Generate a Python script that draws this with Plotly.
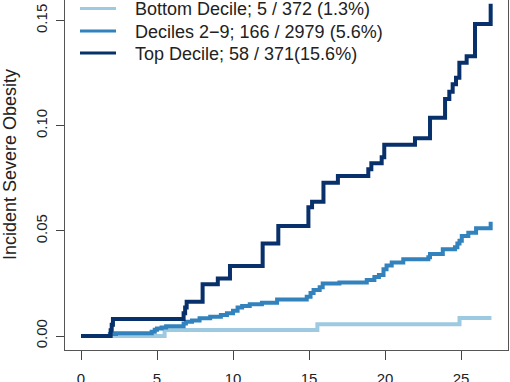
import plotly.graph_objects as go

# ---- data ----
bottom_t = [0, 5.5, 15.55, 24.9, 27.0]
bottom_y = [0, 0.0028, 0.0056, 0.0086, 0.0086]

mid_t = [0, 1.9, 2.3, 4.65, 4.85, 5.0, 5.3, 5.6, 6.75, 6.9, 7.3, 7.8, 8.5, 9.2, 9.6,
         10.0, 10.3, 10.6, 11.1, 11.9, 12.9, 14.85, 15.1, 15.3, 15.7, 15.9, 17.0,
         18.8, 19.3, 19.6, 19.9, 20.1, 20.44, 21.2, 22.85, 22.96, 23.8, 24.6, 24.76,
         24.9, 25.05, 25.48, 25.99, 26.95]
mid_y = [0, 0.0010, 0.0013, 0.0020, 0.0030, 0.0036, 0.0041, 0.0046, 0.0060, 0.0068,
         0.0074, 0.0084, 0.0092, 0.0100, 0.0108, 0.0120, 0.0135, 0.0143, 0.0151,
         0.0158, 0.0174, 0.0187, 0.0205, 0.0219, 0.0232, 0.0250, 0.0255, 0.0266,
         0.0280, 0.0290, 0.0317, 0.0335, 0.0349, 0.0365, 0.0374, 0.0390, 0.0412,
         0.0422, 0.0440, 0.0453, 0.0476, 0.0491, 0.0512, 0.0543]

top_t = [0, 1.95, 2.02, 2.1, 6.75, 6.85, 6.95, 8.0, 9.0, 9.8, 11.95, 12.98, 14.96,
         15.2, 15.95, 16.9, 18.9, 19.1, 19.78, 19.95, 21.97, 22.96, 23.95, 24.23,
         24.45, 24.67, 24.89, 25.37, 25.92, 26.95]
top_y = [0, 0.0027, 0.0054, 0.0081, 0.0108, 0.0135, 0.0163, 0.0246, 0.0274, 0.0333,
         0.0440, 0.0523, 0.0612, 0.0639, 0.0729, 0.0761, 0.0793, 0.0821, 0.0850,
         0.0910, 0.0940, 0.1038, 0.1127, 0.1162, 0.1197, 0.1228, 0.1300, 0.1330,
         0.1484, 0.1580]

names = ["Bottom Decile; 5 / 372 (1.3%)",
         "Deciles 2\u22129; 166 / 2979 (5.6%)",
         "Top Decile; 58 / 371(15.6%)"]
colors = ["#9ecae1", "#3182bd", "#08306b"]

x_ticks = [0, 5, 10, 15, 20, 25]
y_ticks = [0, 0.05, 0.10, 0.15]
y_ticktext = ["0.00", "0.05", "0.10", "0.15"]

FONT = "Liberation Sans, Arial, Helvetica, sans-serif"

# plot area in pixels (used for placing the legend and the axis title)
L, B, W, H = 65, 350, 443, 350
def px(x):
    return (x - L) / W
def py(y):
    return (B - y) / H

fig = go.Figure()
for t, y, n, c in zip([bottom_t, mid_t, top_t], [bottom_y, mid_y, top_y], names, colors):
    fig.add_trace(go.Scatter(x=t, y=y, mode="lines", name=n, showlegend=False,
                             line=dict(color=c, width=4, shape="hv")))

# legend (R-style key in the top-left corner)
legend_rows = [8.5, 31, 53]
shapes, annotations = [], []
for n, c, ry in zip(names, colors, legend_rows):
    shapes.append(dict(type="line", xref="paper", yref="paper",
                       x0=px(80), x1=px(116), y0=py(ry), y1=py(ry),
                       line=dict(color=c, width=3)))
    annotations.append(dict(text=n, xref="paper", yref="paper", x=px(133), y=py(ry + 1),
                            xanchor="left", yanchor="middle", showarrow=False,
                            font=dict(size=18, color="#222")))
annotations.append(dict(text="Incident Severe Obesity", textangle=-90,
                        xref="paper", yref="paper", x=px(10), y=py(165),
                        xanchor="center", yanchor="middle", showarrow=False,
                        font=dict(size=18, color="#222")))

fig.update_layout(
    width=510, height=382,
    margin=dict(l=65, r=2, t=0, b=32, autoexpand=False),
    paper_bgcolor="white", plot_bgcolor="white",
    font=dict(family=FONT, size=15, color="#222"),
    showlegend=False,
    shapes=shapes,
    annotations=annotations,
    xaxis=dict(range=[-1.053, 28.09], tickvals=x_ticks, ticks="outside", ticklen=9,
               tickcolor="#444", showline=True, linecolor="#555", linewidth=1,
               mirror=False, showgrid=False, zeroline=False, ticklabelstandoff=6,
               tickfont=dict(size=15), automargin=False),
    yaxis=dict(range=[-0.00666, 0.1598], tickvals=y_ticks, ticktext=y_ticktext,
               tickangle=-90, ticks="outside", ticklen=8, tickcolor="#444",
               showline=True, linecolor="#555", linewidth=1, mirror=True,
               showgrid=False, zeroline=False, ticklabelstandoff=3,
               tickfont=dict(size=15), automargin=False),
)

fig.write_html("out.html", config={"displayModeBar": False},
               post_script="document.body.style.margin='0px';")
